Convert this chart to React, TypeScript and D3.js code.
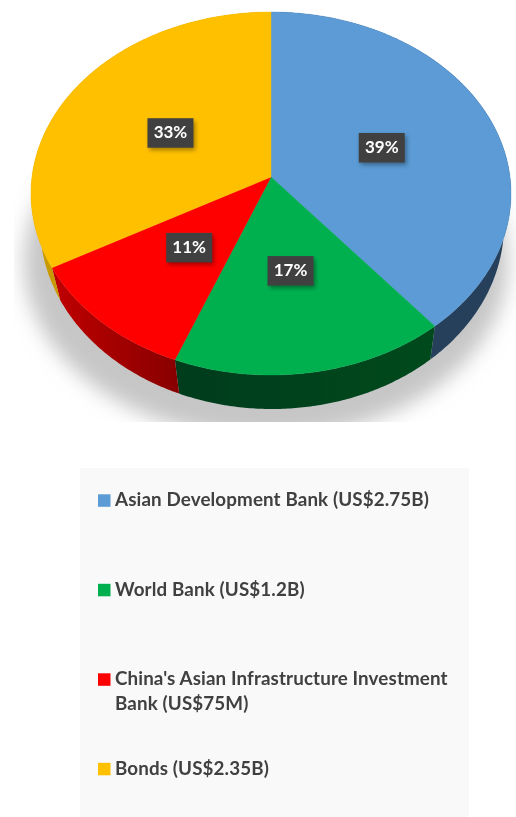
import React from "react";
import * as d3 from "d3";

const categories = [
  "Asian Development Bank (US$2.75B)",
  "World Bank (US$1.2B)",
  "China's Asian Infrastructure Investment\nBank (US$75M)",
  "Bonds (US$2.35B)",
];
const shares = [39, 17, 11, 33];
const shareLabels = ["39%", "17%", "11%", "33%"];
const topColors = ["#5b9bd5", "#00b050", "#ff0000", "#ffc000"];
const wallStart = ["#25405c", "#003c1b", "#c00000", "#c99a00"];
const wallEnd = ["#253f5b", "#00491f", "#870000", "#c99a00"];

const W = 516;
const H = 817;
// perspective of the disc: the pie centre sits above the middle of the ellipse
const tilt = 0.0909;
const topX = d3.scaleLinear().domain([-1, 1]).range([31, 511]);
const topY = d3.scaleLinear().domain([-1, 1]).range([375, 12]);
const botX = d3.scaleLinear().domain([-1, 1]).range([40, 504]);
const botY = d3.scaleLinear().domain([-1, 1]).range([409, 41]);

type P = [number, number];
const project = (a: number, r: number): P => {
  const x = r * Math.sin(a);
  const y = r * Math.cos(a);
  const den = 1 + tilt * y;
  return [(x * Math.sqrt(1 - tilt * tilt)) / den, (y + tilt) / den];
};
const line = d3.line<P>().curve(d3.curveLinear);
const sample = (a0: number, a1: number): number[] => {
  const n = Math.max(2, Math.ceil((a1 - a0) / 0.01));
  return d3.range(n + 1).map((i) => a0 + ((a1 - a0) * i) / n);
};

const arcs = d3
  .pie<number>()
  .sort(null)
  .value((d) => d)(shares);

const facePath = (a0: number, a1: number) => {
  const pts: P[] = sample(a0, a1).map((a) => {
    const [x, y] = project(a, 1);
    return [topX(x), topY(y)] as P;
  });
  const [cx, cy] = project(0, 0);
  return line([[topX(cx), topY(cy)], ...pts])! + "Z";
};
const wallPath = (a0: number, a1: number) => {
  const as = sample(a0, a1);
  const upper = as.map((a) => {
    const [x, y] = project(a, 1);
    return [topX(x), topY(y)] as P;
  });
  const lower = as
    .map((a) => {
      const [x, y] = project(a, 1);
      return [botX(x), botY(y)] as P;
    })
    .reverse();
  return line([...upper, ...lower])! + "Z";
};

const legendX = 98;
const legendRowY = [500.5, 590, 679.5, 769];

export default function App() {
  return (
    <svg
      width={W}
      height={H}
      viewBox={`0 0 ${W} ${H}`}
      style={{ position: "absolute", left: 0, top: 0, background: "#fff" }}
    >
      <defs>
        <filter id="soft" x="-2%" y="-2%" width="104%" height="104%">
          <feGaussianBlur stdDeviation="0.6" />
        </filter>
        <filter id="cast" x="-20%" y="-20%" width="140%" height="140%">
          <feGaussianBlur stdDeviation="10" />
        </filter>
        <filter id="boxShadow" x="-30%" y="-30%" width="160%" height="160%">
          <feGaussianBlur stdDeviation="2.2" />
        </filter>
        <clipPath id="floor">
          <rect x={0} y={0} width={W} height={422} />
        </clipPath>
        {arcs.map((_, i) => (
          <linearGradient id={`wall${i}`} key={i} x1="0" x2="1" y1="0" y2="0">
            <stop offset="0%" stopColor={wallStart[i]} />
            <stop offset="100%" stopColor={wallEnd[i]} />
          </linearGradient>
        ))}
      </defs>
      <g filter="url(#soft)">
        <g clipPath="url(#floor)">
          <ellipse cx={266} cy={262} rx={242} ry={176} fill="#c6c6c6" filter="url(#cast)" />
        </g>
        {arcs.map((d, i) => (
          <path key={i} d={wallPath(d.startAngle, d.endAngle)} fill={`url(#wall${i})`} />
        ))}
        {arcs.map((d, i) => (
          <path
            key={i}
            d={facePath(d.startAngle, d.endAngle)}
            fill={topColors[i]}
            stroke={topColors[i]}
            strokeWidth={0.4}
          />
        ))}
        {arcs.map((d, i) => {
          const [ux, uy] = project((d.startAngle + d.endAngle) / 2, 0.5);
          const x = topX(ux);
          const y = topY(uy);
          return (
            <g key={i} transform={`translate(${x},${y})`}>
              <rect x={-21} y={-11} width={46} height={29} fill="#000" opacity={0.35} filter="url(#boxShadow)" />
              <rect x={-23} y={-14} width={46} height={29.5} fill="#414141" />
              <text
                y={6.2}
                textAnchor="middle"
                fontFamily="Lato, sans-serif"
                fontWeight={700}
                fontSize={17}
                fill="#fff"
              >
                {shareLabels[i]}
              </text>
            </g>
          );
        })}
        <rect x={80} y={468} width={389} height={349} fill="#f9f9f9" />
        {categories.map((c, i) => (
          <g key={i} transform={`translate(${legendX},${legendRowY[i]})`}>
            <rect x={0} y={-6.2} width={12.5} height={12.5} fill={topColors[i]} />
            {c.split("\n").map((t, j) => (
              <text
                key={j}
                x={17}
                y={5.5 + j * 25}
                fontFamily="Lato, sans-serif"
                fontWeight={700}
                fontSize={18.8}
                letterSpacing={0.12}
                fill="#404040"
              >
                {t}
              </text>
            ))}
          </g>
        ))}
      </g>
    </svg>
  );
}
